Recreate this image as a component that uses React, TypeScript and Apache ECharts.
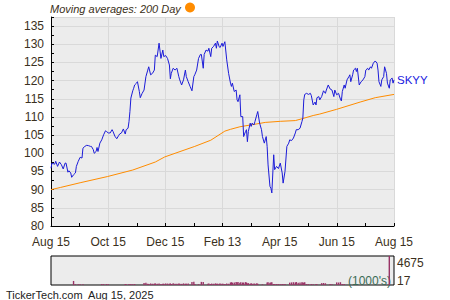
import React, { useEffect, useRef } from "react";
import * as echarts from "echarts";

// Dates are day offsets since Aug 15, 2024
const xTickLabels = ["Aug 15", "Oct 15", "Dec 15", "Feb 13", "Apr 15", "Jun 15", "Aug 15"];
const TOTAL_DAYS = 365;

const dayOffsets = [
  0, 1, 4, 5, 7, 9, 11, 13, 15, 16, 18, 19, 21, 22, 24, 26, 27, 29, 31, 33,
  34, 36, 38, 40, 42, 43, 45, 46, 48, 49, 50, 52, 54, 56, 58, 59, 61, 63, 65, 66,
  68, 70, 72, 73, 75, 77, 79, 80, 82, 83, 84, 85, 87, 88, 89, 91, 92, 94, 95, 97,
  99, 101, 103, 104, 106, 108, 110, 111, 113, 115, 117, 119, 120, 122, 124, 126, 127, 128, 130, 132,
  134, 136, 137, 139, 141, 143, 144, 146, 148, 150, 152, 153, 155, 157, 159, 160, 162, 163, 165, 167,
  168, 170, 171, 173, 175, 176, 177, 179, 180, 182, 183, 185, 187, 189, 191, 192, 193, 195, 197, 198,
  199, 201, 202, 204, 205, 207, 208, 209, 210, 212, 213, 214, 216, 217, 219, 220, 222, 224, 225, 227,
  229, 230, 231, 233, 234, 235, 237, 238, 240, 242, 244, 246, 247, 249, 251, 253, 254, 256, 258, 260,
  261, 263, 265, 267, 268, 269, 270, 272, 274, 276, 277, 279, 281, 282, 283, 285, 286, 288, 290, 292,
  293, 295, 297, 299, 301, 302, 304, 306, 308, 309, 310, 312, 313, 315, 317, 318, 319, 321, 322, 324,
  325, 326, 328, 330, 332, 334, 335, 337, 338, 340, 341, 343, 345, 347, 348, 349, 351, 352, 354, 355,
  357, 358, 360, 361, 363, 364, 365,
];

const closes = [
  95.9, 97.3, 97.0, 97.8, 96.4, 97.6, 96.9, 95.7, 97.3, 97.3, 94.8, 95.2, 94.6, 93.4, 94.1, 94.6, 96.4, 97.8, 98.9, 98.7,
  101.4, 101.9, 102.2, 102.1, 101.9, 101.9, 101.0, 100.0, 100.5, 101.6, 100.5, 102.8, 103.7, 105.1, 106.2, 106.0, 105.6, 105.6, 106.5, 106.0,
  104.7, 104.0, 104.9, 105.3, 105.6, 106.7, 105.3, 106.5, 106.9, 108.7, 111.5, 115.2, 117.2, 117.9, 118.8, 119.3, 119.7, 117.0, 115.3, 116.5,
  117.4, 121.1, 122.9, 123.8, 121.6, 122.0, 122.9, 127.0, 126.6, 130.3, 126.1, 128.4, 126.6, 126.9, 126.1, 124.3, 120.5, 122.0, 123.4, 122.9,
  123.4, 121.1, 120.2, 118.8, 120.2, 122.9, 121.1, 119.7, 118.4, 117.2, 121.1, 121.6, 122.9, 126.1, 127.2, 127.2, 123.4, 127.2, 128.4, 128.1,
  128.9, 126.6, 128.9, 129.4, 130.3, 128.9, 130.9, 129.3, 129.1, 130.3, 129.4, 130.7, 125.7, 122.0, 119.3, 118.4, 119.3, 117.0, 117.4, 114.7,
  114.2, 116.1, 110.1, 110.1, 104.6, 106.0, 106.5, 103.2, 106.0, 108.3, 107.4, 108.3, 107.8, 108.7, 110.6, 111.5, 108.3, 106.5, 104.6, 102.8,
  104.6, 101.9, 96.8, 90.9, 90.4, 89.1, 99.6, 95.5, 96.4, 95.8, 97.3, 94.6, 91.8, 95.0, 101.9, 102.8, 103.7, 103.5, 104.2, 105.6,
  106.5, 106.5, 106.9, 108.7, 109.7, 114.7, 116.2, 116.5, 116.2, 116.5, 115.9, 113.3, 114.1, 113.3, 115.3, 115.6, 114.7, 115.6, 117.2, 116.5,
  117.4, 118.8, 117.7, 117.4, 115.6, 117.4, 116.1, 116.5, 114.9, 114.4, 117.0, 118.8, 117.9, 120.2, 121.1, 121.6, 119.7, 121.6, 122.9, 123.4,
  122.5, 123.4, 118.8, 119.7, 120.2, 121.1, 122.9, 123.4, 122.9, 123.8, 123.4, 124.8, 125.4, 124.8, 122.9, 119.7, 118.4, 120.2, 121.1, 123.8,
  122.0, 119.3, 117.9, 120.2, 120.7, 119.3, 120.2,
];

// volume in thousands, aligned with dayOffsets
const volumes = [
  0, 0, 0, 0, 0, 0, 0, 0, 0, 0, 0, 0, 0, 0, 650, 120, 0, 110, 130, 0,
  120, 0, 0, 0, 0, 0, 0, 0, 0, 0, 0, 0, 160, 140, 0, 150, 130, 0, 0, 0,
  0, 0, 0, 0, 0, 0, 150, 140, 0, 160, 0, 150, 130, 0, 150, 0, 0, 0, 0, 0,
  330, 350, 200, 180, 250, 200, 220, 260, 200, 230, 180, 220, 200, 250, 230, 200, 260, 180, 300, 220,
  200, 250, 200, 180, 260, 200, 220, 250, 0, 480, 520, 150, 0, 140, 0, 500, 480, 0, 0, 200,
  250, 180, 230, 200, 260, 180, 220, 200, 250, 200, 220, 180, 250, 200, 400, 450, 380, 420, 480, 400,
  500, 380, 450, 420, 380, 460, 400, 250, 300, 220, 280, 200, 260, 220, 300, 200, 0, 0, 120, 0,
  0, 400, 450, 380, 420, 460, 150, 140, 160, 150, 130, 150, 140, 160, 0, 0, 380, 420, 450, 400,
  480, 380, 420, 450, 400, 380, 460, 150, 140, 0, 150, 130, 0, 150, 140, 0, 0, 300, 320, 280,
  0, 0, 150, 140, 0, 0, 420, 400, 450, 0, 150, 150, 0, 0, 0, 0, 0, 0, 0, 0,
  0, 0, 0, 0, 0, 0, 0, 0, 0, 0, 0, 0, 0, 0, 0, 0, 0, 0, 0, 0,
  0, 0, 4675, 0, 0, 0, 0,
];

const maDays = [0, 10, 31, 60, 87, 111, 121, 132, 153, 170, 185, 191, 201, 217, 228, 244, 260, 267, 279, 286, 304, 329, 345, 365];
const maValues = [90.0, 90.6, 91.9, 93.6, 95.4, 97.6, 99.0, 100.0, 101.9, 103.6, 106.1, 106.6, 107.3, 108.0, 108.5, 108.8, 109.0, 109.5, 110.4, 110.8, 112.1, 114.1, 115.3, 116.2];

const volumeAxisLabels = ["4675", "17"];
const VOL_MAX = 4675;

const FONT = "Liberation Sans, Arial, sans-serif";
const TEXT = "#3b3020";

export default function App() {
  const ref = useRef<HTMLDivElement>(null);
  useEffect(() => {
    if (!ref.current) return;
    const chart = echarts.init(ref.current, null, { renderer: "svg" });
    const step = TOTAL_DAYS / 6;
    chart.setOption({
      animation: false,
      textStyle: { fontFamily: FONT },
      grid: [
        { left: 51, top: 17, width: 343, height: 209, show: true, backgroundColor: "#ececec", borderWidth: 0 },
        { left: 51, top: 256, width: 343, height: 29, show: true, backgroundColor: "#ececec", borderColor: "#000", borderWidth: 1 },
      ],
      xAxis: [
        {
          type: "value", gridIndex: 0, min: 0, max: TOTAL_DAYS, interval: step,
          axisLine: { lineStyle: { color: "#000", width: 1 } },
          axisTick: { show: true, inside: true, length: 3, lineStyle: { color: "#000" } },
          minorTick: { show: true, splitNumber: 2, length: 3, lineStyle: { color: "#000" } },
          splitLine: { show: true, lineStyle: { color: "#d9d9d9", width: 1 } },
          axisLabel: {
            color: TEXT, fontSize: 12, fontFamily: FONT, margin: 10, showMaxLabel: true, showMinLabel: true,
            formatter: (v: number) => {
              const i = Math.round(v / step);
              return Math.abs(v - i * step) < 0.01 ? xTickLabels[i] : "";
            },
          },
        },
        { type: "value", gridIndex: 1, min: 0, max: TOTAL_DAYS, show: false },
      ],
      yAxis: [
        {
          type: "value", gridIndex: 0, min: 80, max: 137.5, interval: 5,
          axisLine: { show: true, lineStyle: { color: "#000", width: 1 } },
          axisTick: { show: true, inside: true, length: 3, lineStyle: { color: "#000" } },
          minorTick: { show: true, splitNumber: 2, length: 3, lineStyle: { color: "#000" } },
          splitLine: { show: true, lineStyle: { color: "#d9d9d9", width: 1 } },
          axisLabel: {
            color: TEXT, fontSize: 12, fontFamily: FONT, margin: 7,
            formatter: (v: number) => (v % 5 === 0 ? String(v) : ""),
          },
        },
        { type: "value", gridIndex: 1, min: 0, max: VOL_MAX, show: false },
      ],
      series: [
        {
          type: "bar", xAxisIndex: 1, yAxisIndex: 1, barWidth: 1.4,
          itemStyle: { color: "#993366" },
          data: dayOffsets.map((d, i) => [d, volumes[i]]),
        },
        {
          type: "line", xAxisIndex: 0, yAxisIndex: 0, showSymbol: false,
          lineStyle: { color: "#ff8c00", width: 1 },
          data: maDays.map((d, i) => [d, maValues[i]]),
        },
        {
          type: "line", xAxisIndex: 0, yAxisIndex: 0, showSymbol: false,
          lineStyle: { color: "#1c1cd8", width: 1 },
          data: dayOffsets.map((d, i) => [d, closes[i]]),
          endLabel: { show: true, formatter: "SKYY", color: "#2020e0", fontSize: 11.5, fontFamily: FONT, distance: 3 },
        },
      ],
      graphic: [
        {
          type: "text", left: 50, top: 3,
          style: { text: "Moving averages: 200 Day", fontSize: 11, fontStyle: "italic", fontFamily: FONT, fill: TEXT },
        },
        { type: "circle", shape: { cx: 190, cy: 7.5, r: 5 }, style: { fill: "#ff8c00" } },
        {
          type: "text", left: 397, top: 257,
          style: { text: volumeAxisLabels[0], fontSize: 12, fontFamily: FONT, fill: TEXT },
        },
        {
          type: "text", left: 397, top: 275,
          style: { text: volumeAxisLabels[1], fontSize: 12, fontFamily: FONT, fill: TEXT },
        },
        {
          type: "text", left: 348, top: 275,
          style: { text: "(1000's)", fontSize: 12, fontFamily: FONT, fill: "#3a6b55" },
        },
        {
          type: "text", left: 6, top: 289,
          style: { text: "TickerTech.com  Aug 15, 2025", fontSize: 11, fontFamily: FONT, fill: "#222" },
        },
      ],
    });
    return () => chart.dispose();
  }, []);
  return <div ref={ref} style={{ width: 450, height: 300, position: "absolute", left: 0, top: 0 }} />;
}
